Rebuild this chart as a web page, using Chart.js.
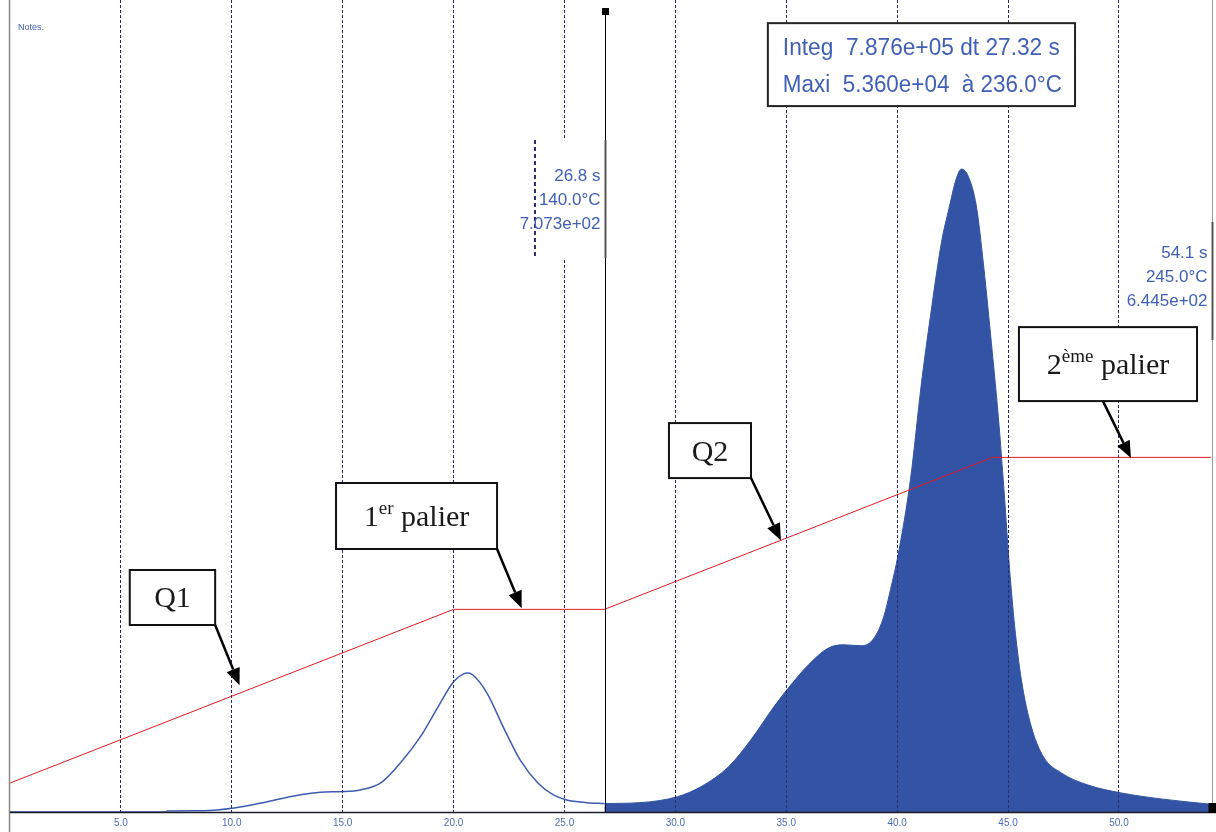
<!DOCTYPE html>
<html>
<head>
<meta charset="utf-8">
<title>Thermogramme</title>
<script src="https://cdn.jsdelivr.net/npm/chart.js@4.4.1/dist/chart.umd.min.js"></script>
<style>
  html, body { margin: 0; padding: 0; background: #fff; }
  #wrap { width: 1216px; height: 832px; position: relative; }
</style>
</head>
<body>
<div id="wrap"><canvas id="thermoChart"></canvas></div>
<script>
// Signal before the first cursor (thin line)
const timeBefore = [0, 7.0, 7.1, 8.7, 10.1, 11.6, 12.8, 14.0, 15.0, 15.8, 16.7, 17.6, 18.5, 19.3, 20.0, 20.45, 20.65, 20.86, 21.5, 22.3, 23.0, 23.8, 24.5, 25.1, 26.0, 26.8];
const signalBefore = [0, 0, 80, 110, 330, 860, 1340, 1650, 1700, 1840, 2400, 4090, 6260, 8770, 10860, 11520, 11580, 11440, 9940, 6850, 4340, 2420, 1420, 1000, 780, 707];

// Signal inside the integration window (filled)
const timeWindow = [26.8, 28.4, 30.1, 31.15, 32.4, 33.4, 34.45, 35.1, 36.0, 36.9, 37.6, 38.4, 38.96, 39.4, 39.7, 40.05, 40.6, 41.1, 41.5, 42.0, 42.35, 42.66, 42.9, 43.2, 43.57, 43.9, 44.2, 44.56, 44.83, 45.06, 45.3, 45.6, 46.05, 46.6, 47.4, 48.6, 50.1, 51.9, 54.15];
const signalWindow = [707, 780, 1280, 2110, 3780, 6010, 8790, 10350, 12270, 13670, 13940, 13860, 14500, 16310, 18540, 21500, 27720, 35820, 41330, 47510, 50430, 52770, 53600, 53020, 50520, 45510, 40000, 32980, 26500, 20460, 15450, 11020, 7100, 4590, 3260, 2250, 1590, 1090, 644];

// Temperature program (°C)
const tempTime = [0, 20, 26.8, 44.3, 54.15];
const tempValue = [20, 140, 140, 245, 245];

// x axis tick labels (s)
const xTicks = [5, 10, 15, 20, 25, 30, 35, 40, 45, 50];

const xMax = 54.15;
const signalMax = 67700;
const tempMax = 561;

// Cursor readouts
const cursorTimes = [26.8, 54.1];
const cursorTemps = ['140.0°C', '245.0°C'];
const cursorSignals = ['7.073e+02', '6.445e+02'];
const integLines = ['Integ  7.876e+05 dt 27.32 s', 'Maxi  5.360e+04  à 236.0°C'];

const BLUE_TEXT = '#3f5fb8';

// Callout boxes, placed in (time, temperature) coordinates
const callouts = [
  { parts: [{ t: 'Q1' }], box: [5.4, 167.2, 9.25, 129.2], tail: [9.25, 129.2], tip: [10.35, 87.5] },
  { parts: [{ t: '1' }, { t: 'er', sup: true }, { t: ' palier' }], box: [14.7, 227.3, 21.96, 181.7], tail: [21.96, 181.7], tip: [23.07, 140.8] },
  { parts: [{ t: 'Q2' }], box: [29.71, 268.7, 33.41, 230.7], tail: [33.41, 230.7], tip: [34.76, 187.5] },
  { parts: [{ t: '2' }, { t: 'ème', sup: true }, { t: ' palier' }], box: [45.49, 335.0, 53.52, 283.9], tail: [49.28, 283.9], tip: [50.54, 244.5] }
];

// Cursor label boxes: top / bottom in °C, left edge in s, first baseline in °C
const cursorBoxes = [
  { top: 464.2, bottom: 382.7, left: 23.67, base: 435.9, dashed: true },
  { top: 407.6, bottom: 326.1, left: 50.5, base: 382.7, dashed: false }
];
const integBox = [34.17, 545, 48.02, 487.7];

function toXY(xs, ys) {
  return xs.map((x, i) => ({ x: x, y: ys[i] }));
}

function drawArrow(ctx, x1, y1, x2, y2) {
  const ang = Math.atan2(y2 - y1, x2 - x1);
  const len = 17, half = 7;
  const bx = x2 - len * Math.cos(ang), by = y2 - len * Math.sin(ang);
  ctx.beginPath();
  ctx.moveTo(x1, y1);
  ctx.lineTo(bx, by);
  ctx.stroke();
  ctx.beginPath();
  ctx.moveTo(x2, y2);
  ctx.lineTo(bx + half * Math.sin(ang), by - half * Math.cos(ang));
  ctx.lineTo(bx - half * Math.sin(ang), by + half * Math.cos(ang));
  ctx.closePath();
  ctx.fill();
}

const overlayPlugin = {
  id: 'overlays',
  afterDraw(chart) {
    const { ctx, chartArea: area, scales } = chart;
    const px = v => scales.x.getPixelForValue(v);
    const py = v => scales.yT.getPixelForValue(v);
    ctx.save();

    // left frame line and baseline
    ctx.strokeStyle = '#8c8880';
    ctx.lineWidth = 1.5;
    ctx.beginPath();
    ctx.moveTo(area.left - 0.5, 0);
    ctx.lineTo(area.left - 0.5, chart.height);
    ctx.stroke();
    ctx.strokeStyle = '#1c1c28';
    ctx.beginPath();
    ctx.moveTo(area.left, area.bottom + 0.5);
    ctx.lineTo(chart.width, area.bottom + 0.5);
    ctx.stroke();

    // "Notes."
    ctx.fillStyle = BLUE_TEXT;
    ctx.font = '9px "Liberation Sans"';
    ctx.textAlign = 'left';
    ctx.textBaseline = 'alphabetic';
    ctx.fillText('Notes.', area.left + 8, 30);

    // cursor 1: black line with square on top
    const c1 = Math.round(px(cursorTimes[0])) + 1.5;
    ctx.strokeStyle = '#000';
    ctx.lineWidth = 1;
    ctx.beginPath();
    ctx.moveTo(c1, area.top + 10);
    ctx.lineTo(c1, area.bottom);
    ctx.stroke();
    ctx.fillStyle = '#000';
    ctx.fillRect(c1 - 3.5, area.top + 8, 7, 7);

    // cursor 2: thin grey line with square at the bottom
    const c2 = Math.round(px(cursorTimes[1])) + 2.5;
    ctx.strokeStyle = '#9a9a9a';
    ctx.beginPath();
    ctx.moveTo(c2, area.top);
    ctx.lineTo(c2, area.bottom);
    ctx.stroke();
    ctx.fillStyle = '#000';
    ctx.fillRect(c2 - 4, area.bottom - 9, chart.width - c2 + 4, 10);

    // cursor readouts
    cursorBoxes.forEach((b, i) => {
      const right = i === 0 ? c1 : c2;
      const left = px(b.left), top = py(b.top), bottom = py(b.bottom);
      ctx.fillStyle = '#fff';
      ctx.fillRect(left, top, right - left - 1, bottom - top);
      if (b.dashed) {
        ctx.strokeStyle = '#2b2b6b';
        ctx.lineWidth = 2;
        ctx.setLineDash([4, 3]);
        ctx.beginPath();
        ctx.moveTo(left, top);
        ctx.lineTo(left, bottom);
        ctx.stroke();
        ctx.setLineDash([]);
      }
      ctx.strokeStyle = '#555';
      ctx.lineWidth = 2;
      ctx.beginPath();
      ctx.moveTo(right, top);
      ctx.lineTo(right, bottom);
      ctx.stroke();
      ctx.fillStyle = BLUE_TEXT;
      ctx.font = '17px "Liberation Sans"';
      ctx.textAlign = 'right';
      const lines = [cursorTimes[i].toFixed(1) + ' s', cursorTemps[i], cursorSignals[i]];
      lines.forEach((t, k) => {
        ctx.fillText(t, right - 5, py(b.base) + k * 24);
      });
    });

    // integration box
    const ix0 = px(integBox[0]), iy0 = py(integBox[1]);
    const ix1 = px(integBox[2]), iy1 = py(integBox[3]);
    ctx.fillStyle = '#fff';
    ctx.fillRect(ix0, iy0, ix1 - ix0, iy1 - iy0);
    ctx.strokeStyle = '#222';
    ctx.lineWidth = 2;
    ctx.strokeRect(ix0, iy0, ix1 - ix0, iy1 - iy0);
    ctx.fillStyle = BLUE_TEXT;
    ctx.font = '23px "Liberation Sans"';
    ctx.textAlign = 'left';
    ctx.fillText(integLines[0], ix0 + 15, iy0 + 32, 277);
    ctx.fillText(integLines[1], ix0 + 15, iy0 + 69, 279);

    // callouts
    callouts.forEach(c => {
      const x0 = px(c.box[0]), y0 = py(c.box[1]);
      const x1 = px(c.box[2]), y1 = py(c.box[3]);
      ctx.fillStyle = '#fff';
      ctx.fillRect(x0, y0, x1 - x0, y1 - y0);
      ctx.strokeStyle = '#111';
      ctx.lineWidth = 2;
      ctx.strokeRect(x0, y0, x1 - x0, y1 - y0);

      const big = '30px "Liberation Serif"', small = '19px "Liberation Serif"';
      let w = 0;
      c.parts.forEach(p => { ctx.font = p.sup ? small : big; w += ctx.measureText(p.t).width; });
      let x = (x0 + x1) / 2 - w / 2;
      const base = (y0 + y1) / 2 + 10;
      ctx.fillStyle = '#1a1a1a';
      ctx.textAlign = 'left';
      c.parts.forEach(p => {
        ctx.font = p.sup ? small : big;
        ctx.fillText(p.t, x, p.sup ? base - 12 : base);
        x += ctx.measureText(p.t).width;
      });

      ctx.strokeStyle = '#000';
      ctx.fillStyle = '#000';
      ctx.lineWidth = 2.5;
      drawArrow(ctx, px(c.tail[0]), py(c.tail[1]), px(c.tip[0]), py(c.tip[1]));
    });

    ctx.restore();
  }
};

const ctx = document.getElementById('thermoChart');
new Chart(ctx, {
  type: 'line',
  data: {
    datasets: [
      {
        label: 'Température',
        data: toXY(tempTime, tempValue),
        yAxisID: 'yT',
        borderColor: '#e41b23',
        borderWidth: 1,
        pointRadius: 0,
        fill: false,
        order: 0
      },
      {
        label: 'Signal',
        data: toXY(timeBefore, signalBefore),
        yAxisID: 'y',
        borderColor: '#3d5cb0',
        borderWidth: 1.5,
        pointRadius: 0,
        cubicInterpolationMode: 'monotone',
        fill: false,
        order: 1
      },
      {
        label: 'Intégration',
        data: toXY(timeWindow, signalWindow),
        yAxisID: 'y',
        borderColor: '#3353a4',
        backgroundColor: '#3353a4',
        borderWidth: 1,
        pointRadius: 0,
        cubicInterpolationMode: 'monotone',
        fill: 'origin',
        order: 2
      }
    ]
  },
  options: {
    responsive: true,
    maintainAspectRatio: false,
    animation: false,
    layout: { padding: { left: 10, right: 5, top: 0, bottom: 0 } },
    plugins: {
      legend: { display: false },
      tooltip: { enabled: false }
    },
    scales: {
      x: {
        type: 'linear',
        min: 0,
        max: xMax,
        afterBuildTicks: s => { s.ticks = xTicks.map(v => ({ value: v })); },
        afterFit: s => { s.height = 20; },
        ticks: {
          color: '#4f6cb8',
          font: { family: 'Liberation Sans', size: 10 },
          padding: 5,
          maxRotation: 0,
          autoSkip: false,
          callback: v => v.toFixed(1)
        },
        grid: {
          color: '#2b2b6b',
          lineWidth: 1,
          drawTicks: false,
          z: 1
        },
        border: { display: false, dash: [3, 2] }
      },
      y: {
        display: false,
        min: 0,
        max: signalMax
      },
      yT: {
        display: false,
        min: 0,
        max: tempMax
      }
    }
  },
  plugins: [overlayPlugin]
});
</script>
</body>
</html>
